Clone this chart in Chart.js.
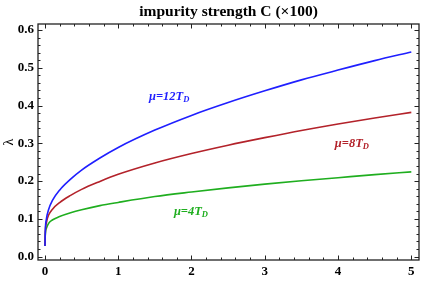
<!DOCTYPE html>
<html>
<head>
<meta charset="utf-8">
<script src="https://cdn.jsdelivr.net/npm/chart.js@4/dist/chart.umd.min.js"></script>
<style>
html,body{margin:0;padding:0;background:#fff;}
#wrap{width:436px;height:290px;position:relative;}
</style>
</head>
<body>
<div id="wrap"><canvas id="c" width="436" height="290"></canvas></div>
<script>
const titleText = 'impurity strength C (\u00d7100)';
const yTitle = '\u03bb';
const cValues = [0, 0.005, 0.02, 0.05, 0.1, 0.2, 0.35, 0.5, 0.75, 1, 1.5, 2, 2.5, 3, 3.5, 4, 4.5, 5];
const mu12 = [0.028, 0.07, 0.1, 0.125, 0.148, 0.176, 0.205, 0.229, 0.261, 0.289, 0.335, 0.374, 0.408, 0.439, 0.468, 0.494, 0.519, 0.542];
const mu8  = [0.028, 0.065, 0.09, 0.11, 0.125, 0.143, 0.162, 0.178, 0.199, 0.218, 0.248, 0.273, 0.295, 0.315, 0.334, 0.351, 0.367, 0.382];
const mu4  = [0.028, 0.06, 0.075, 0.088, 0.097, 0.106, 0.116, 0.124, 0.135, 0.1435, 0.159, 0.171, 0.182, 0.192, 0.201, 0.209, 0.217, 0.2245];
const seriesNames = ['\u03bc=12T', '\u03bc=8T', '\u03bc=4T'];
const xTicks = [0, 1, 2, 3, 4, 5];
const yTicks = [0.0, 0.1, 0.2, 0.3, 0.4, 0.5, 0.6];

const colors = ['#1f1fff', '#b3222a', '#1fae1f'];
const labelPos = [[1.42, 0.4225], [3.956, 0.30], [1.76, 0.118]];

const toPts = arr => arr.map((v, i) => ({x: cValues[i], y: v}));

const framePlugin = {
  id: 'frame',
  afterDatasetsDraw(chart) {
    const ctx = chart.ctx, a = chart.chartArea;
    const xs = chart.scales.x, ys = chart.scales.y;
    ctx.save();
    ctx.strokeStyle = '#222';
    ctx.lineWidth = 1.3;
    ctx.strokeRect(a.left, a.top, a.right - a.left, a.bottom - a.top);
    ctx.lineWidth = 1;
    ctx.beginPath();
    for (let i = 0; i <= 25; i++) {
      const v = i * 0.2;
      const px = Math.round(xs.getPixelForValue(v)) + 0.5;
      const major = i % 5 === 0;
      const L = major ? 4.5 : 2.5;
      ctx.moveTo(px, a.bottom); ctx.lineTo(px, a.bottom - L);
      ctx.moveTo(px, a.top); ctx.lineTo(px, a.top + L);
    }
    for (let i = 0; i <= 30; i++) {
      const v = i * 0.02;
      const py = Math.round(ys.getPixelForValue(v)) + 0.5;
      const major = i % 5 === 0;
      const L = major ? 4.5 : 2.5;
      ctx.moveTo(a.left, py); ctx.lineTo(a.left + L, py);
      ctx.moveTo(a.right, py); ctx.lineTo(a.right - L, py);
    }
    ctx.stroke();
    // series labels
    ctx.textBaseline = 'middle';
    ctx.textAlign = 'left';
    seriesNames.forEach((t, i) => {
      const px = xs.getPixelForValue(labelPos[i][0]);
      const py = ys.getPixelForValue(labelPos[i][1]);
      ctx.fillStyle = colors[i];
      ctx.font = 'italic bold 12.5px "Liberation Serif", serif';
      ctx.fillText(t, px, py);
      const w = ctx.measureText(t).width;
      ctx.font = 'italic bold 8.5px "Liberation Serif", serif';
      ctx.fillText('D', px + w, py + 3);
    });
    // title
    ctx.fillStyle = '#000';
    ctx.textAlign = 'center';
    ctx.font = 'bold 15.5px "Liberation Serif", serif';
    ctx.fillText(titleText, (a.left + a.right) / 2, 12);
    ctx.restore();
  }
};

new Chart(document.getElementById('c'), {
  type: 'line',
  data: {
    datasets: [mu12, mu8, mu4].map((arr, i) => ({
      label: seriesNames[i],
      data: toPts(arr),
      borderColor: colors[i],
      borderWidth: 1.6,
      pointRadius: 0,
      fill: false,
      cubicInterpolationMode: 'monotone'
    }))
  },
  options: {
    responsive: false,
    animation: false,
    devicePixelRatio: 1,
    layout: {padding: {top: 24, right: 17, left: 0, bottom: 0}},
    plugins: {legend: {display: false}, title: {display: false}, tooltip: {enabled: false}},
    scales: {
      x: {
        type: 'linear', min: -0.095, max: 5.105,
        afterBuildTicks: s => { s.ticks = xTicks.map(v => ({value: v})); },
        afterFit: s => { s.height = 30; },
        grid: {display: false, drawTicks: false}, border: {display: false},
        ticks: {padding: 4, color: '#000', font: {family: '"Liberation Serif", serif', size: 13, weight: 'bold'},
                callback: v => String(v)}
      },
      y: {
        type: 'linear', min: -0.009, max: 0.616,
        afterBuildTicks: s => { s.ticks = yTicks.map(v => ({value: v})); },
        afterFit: s => { s.width = 38; },
        grid: {display: false, drawTicks: false}, border: {display: false},
        title: {display: true, text: yTitle, color: '#000', padding: {top: 1, bottom: 0},
                font: {family: '"Liberation Serif", serif', size: 14}},
        ticks: {padding: 4, color: '#000', font: {family: '"Liberation Serif", serif', size: 13, weight: 'bold'},
                callback: v => Number(v).toFixed(1)}
      }
    }
  },
  plugins: [framePlugin]
});
</script>
</body>
</html>
